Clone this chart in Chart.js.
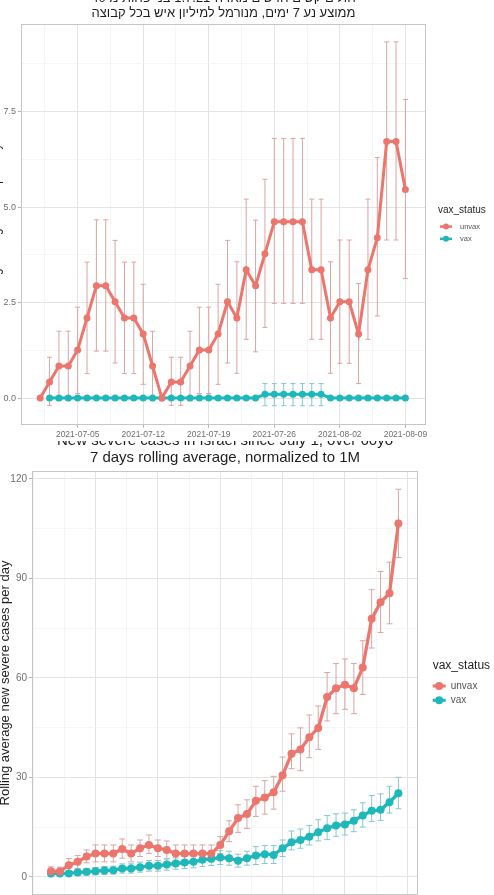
<!DOCTYPE html>
<html>
<head>
<meta charset="utf-8">
<script src="https://cdn.jsdelivr.net/npm/chart.js@4.4.1/dist/chart.umd.min.js"></script>
<style>
  html, body { margin: 0; padding: 0; background: #fff; }
  body { width: 494px; height: 895px; position: relative; overflow: hidden; }
  #topBox { position: absolute; left: 0; top: 0; width: 494px; height: 441px; overflow: hidden; background: #fff; z-index: 2; }
  #topChart { position: absolute; left: -15px; top: -9px; }
  #bottomChart { position: absolute; left: -2px; top: 433px; z-index: 1; }
</style>
</head>
<body>
<div id="topBox"><canvas id="topChart" width="509" height="452"></canvas></div>
<canvas id="bottomChart" width="496" height="475"></canvas>
<script>
// --- data ---
const days = [
  '2021-07-01', '2021-07-02', '2021-07-03', '2021-07-04', '2021-07-05', '2021-07-06', '2021-07-07', '2021-07-08',
  '2021-07-09', '2021-07-10', '2021-07-11', '2021-07-12', '2021-07-13', '2021-07-14', '2021-07-15', '2021-07-16',
  '2021-07-17', '2021-07-18', '2021-07-19', '2021-07-20', '2021-07-21', '2021-07-22', '2021-07-23', '2021-07-24',
  '2021-07-25', '2021-07-26', '2021-07-27', '2021-07-28', '2021-07-29', '2021-07-30', '2021-07-31', '2021-08-01',
  '2021-08-02', '2021-08-03', '2021-08-04', '2021-08-05', '2021-08-06', '2021-08-07', '2021-08-08', '2021-08-09'
];
const dateTicks = ['2021-07-05', '2021-07-12', '2021-07-19', '2021-07-26', '2021-08-02', '2021-08-09'];
const rateTicks = ['0.0', '2.5', '5.0', '7.5'];
const severeTicks = ['0', '30', '60', '90', '120'];
const severeWeekTicks = [5, 12, 19, 26, 33, 40]; // weekly gridlines of the lower chart (day index)
const seriesNames = ['unvax', 'vax'];
const legendTitle = 'vax_status';

const topTitle = ['חולים קשים חדשים מאז ה-1.7.21 בני פחות מ 40', 'ממוצע נע 7 ימים, מנורמל למיליון איש בכל קבוצה'];
const bottomTitle = ['New severe cases in Israel since July 1, over 60yo', '7 days rolling average, normalized to 1M'];
const topYTitle = 'Rolling average cases per day';
const bottomYTitle = 'Rolling average new severe cases per day';

// upper chart (under 40)
const youngUnvax = [0, 0.42, 0.84, 0.84, 1.26, 2.1, 2.94, 2.94, 2.52, 2.1,
  2.1, 1.68, 0.84, 0, 0.42, 0.42, 0.84, 1.26, 1.26, 1.68,
  2.52, 2.1, 3.36, 2.94, 3.78, 4.62, 4.62, 4.62, 4.62, 3.36,
  3.36, 2.1, 2.52, 2.52, 1.68, 3.36, 4.2, 6.72, 6.72, 5.46];
const youngUnvaxLow = [null, -0.19, -0.07, -0.07, 0.12, 0.64, 1.23, 1.23, 0.92, 0.64,
  0.64, 0.36, -0.07, null, -0.19, -0.19, -0.07, 0.12, 0.12, 0.36,
  0.92, 0.65, 1.54, 1.21, 1.85, 2.48, 2.48, 2.48, 2.48, 1.54,
  1.54, 0.65, 0.91, 0.91, 0.38, 1.54, 2.15, 4.14, 4.14, 3.13];
const youngUnvaxHigh = [null, 1.07, 1.75, 1.75, 2.38, 3.56, 4.67, 4.67, 4.13, 3.56,
  3.56, 2.98, 1.75, null, 1.07, 1.07, 1.75, 2.38, 2.38, 2.98,
  4.13, 3.57, 5.21, 4.66, 5.73, 6.8, 6.8, 6.8, 6.8, 5.21,
  5.21, 3.57, 4.14, 4.14, 3.0, 5.21, 6.3, 9.33, 9.33, 7.82];
const youngVax = [null, 0, 0, 0, 0, 0, 0, 0, 0, 0,
  0, 0, 0, 0, 0, 0, 0, 0, 0, 0,
  0, 0, 0, 0, 0.1, 0.1, 0.1, 0.1, 0.1, 0.1,
  0.1, 0, 0, 0, 0, 0, 0, 0, 0, 0];
const youngVaxLow = [null, null, null, null, null, null, null, null, null, null,
  null, null, null, null, null, null, null, null, null, null,
  null, null, null, null, -0.2, -0.2, -0.2, -0.2, -0.2, -0.2,
  -0.2, null, null, null, null, null, null, null, null, null];
const youngVaxHigh = [null, null, null, null, null, null, null, null, null, null,
  null, null, null, null, null, null, null, null, null, null,
  null, null, null, null, 0.38, 0.38, 0.38, 0.38, 0.38, 0.38,
  0.38, null, null, null, null, null, null, null, null, null];

// lower chart (over 60)
const oldUnvax = [1.7, 1.6, 3.5, 4.5, 6.1, 7.0, 7.0, 7.0, 8.4, 7.0,
  8.6, 9.6, 8.6, 8.1, 7.0, 7.0, 7.0, 7.0, 7.0, 9.6,
  13.7, 17.7, 18.9, 22.9, 23.9, 25.5, 30.6, 37.1, 38.4, 42.1,
  44.9, 54.2, 56.9, 57.9, 56.9, 63.1, 77.8, 82.8, 85.5, 106.6];
const oldUnvaxLow = [0.5, 0.4, 1.6, 2.5, 4.2, 4.5, 4.5, 4.5, 5.6, 4.5,
  6.1, 7.0, 6.1, 5.4, 4.5, 4.5, 4.5, 4.5, 4.5, 7.0,
  10.6, 13.4, 14.6, 18.2, 18.9, 20.4, 25.8, 32.6, 32.0, 35.9,
  38.4, 47.0, 49.2, 50.5, 49.2, 55.0, 69.0, 73.7, 76.3, 96.3];
const oldUnvaxHigh = [3.0, 2.9, 5.5, 6.4, 8.1, 9.6, 9.6, 9.6, 11.4, 9.6,
  11.1, 12.6, 11.1, 10.8, 9.6, 9.6, 9.6, 9.6, 9.6, 12.1,
  16.9, 21.7, 23.2, 27.3, 29.0, 30.3, 36.1, 43.1, 44.9, 48.8,
  51.5, 61.6, 64.3, 65.7, 64.3, 71.2, 86.6, 92.1, 94.9, 116.9];
const oldVax = [1.0, 1.0, 1.0, 1.3, 1.5, 1.7, 1.9, 2.0, 2.5, 2.5,
  2.9, 3.3, 3.3, 3.7, 4.0, 4.3, 4.5, 5.1, 5.4, 5.8,
  5.6, 4.8, 5.6, 6.4, 6.8, 6.6, 8.6, 10.4, 11.1, 12.1,
  13.4, 14.6, 15.5, 15.8, 16.9, 18.5, 19.9, 20.2, 22.5, 25.2];
const oldVaxLow = [0.3, 0.3, 0.3, 0.4, 0.5, 0.6, 0.7, 0.8, 1.1, 1.1,
  1.4, 1.7, 1.7, 2.0, 2.3, 2.5, 2.7, 3.1, 3.4, 3.7,
  3.5, 2.9, 3.5, 3.7, 4.0, 4.0, 6.1, 8.1, 8.6, 9.6,
  10.8, 11.2, 12.2, 12.6, 13.6, 15.0, 16.7, 17.0, 19.2, 20.5];
const oldVaxHigh = [1.8, 1.8, 1.8, 2.2, 2.5, 2.8, 3.1, 3.2, 3.9, 3.9,
  4.4, 4.9, 4.9, 5.4, 5.7, 6.1, 6.3, 7.1, 7.4, 7.9,
  7.7, 6.8, 7.7, 9.1, 9.4, 9.4, 11.1, 13.8, 14.4, 15.5,
  17.2, 18.5, 19.0, 19.2, 20.2, 22.3, 24.5, 25.0, 27.3, 30.0];

// --- styling ---
const RED = '#EC756D';
const TEAL = '#1EB8BB';
const RED_BAR = '#D9A5A2';
const TEAL_BAR = '#84C9CA';
const GRID_MAJOR = '#E3E3E3';
const GRID_MINOR = '#EFEFEF';
const TEXT = '#1f1f1f';
const TICK_TEXT = '#6e6e6e';

Chart.defaults.font.family = '"Liberation Sans", Arial, sans-serif';

const toPoints = vals => vals.map((v, i) => ({ x: i, y: v }));

// major gridlines plus ggplot style minor ones half way between
function gridTicks(majors, min, max) {
  const step = majors[1] - majors[0];
  const vals = [];
  for (let v = majors[0] - step; v <= max + 1e-6; v += step / 2) {
    if (v >= min - 1e-6) vals.push(Math.round(v * 1000) / 1000);
  }
  return vals;
}

function ggScale(min, max, majors, labelOf, fontSize, showLabels) {
  const majorIdx = v => majors.findIndex(m => Math.abs(m - v) < 1e-6);
  return {
    type: 'linear', min, max,
    afterBuildTicks: s => { s.ticks = gridTicks(majors, min, max).map(v => ({ value: v })); },
    border: { display: false },
    grid: {
      color: c => majorIdx(c.tick.value) >= 0 ? GRID_MAJOR : GRID_MINOR,
      lineWidth: c => majorIdx(c.tick.value) >= 0 ? 1 : 0.6,
      tickColor: c => majorIdx(c.tick.value) >= 0 ? '#B5B5B5' : 'rgba(0,0,0,0)',
      tickLength: 3,
      drawTicks: showLabels
    },
    ticks: {
      display: showLabels, autoSkip: false, maxRotation: 0, minRotation: 0, padding: 2,
      color: TICK_TEXT, font: { size: fontSize },
      callback: v => { const i = majorIdx(v); return i < 0 ? '' : labelOf(i); }
    }
  };
}

const errorBars = {
  id: 'errorBars',
  beforeDatasetsDraw(chart, args, opts) {
    const { ctx, chartArea: a, scales: { x, y } } = chart;
    ctx.save();
    ctx.beginPath();
    ctx.rect(a.left, a.top, a.right - a.left, a.bottom - a.top);
    ctx.clip();
    chart.data.datasets.forEach(ds => {
      ctx.strokeStyle = ds.errColor;
      ctx.lineWidth = opts.width;
      ds.errLow.forEach((lo, i) => {
        const hi = ds.errHigh[i];
        if (lo == null || hi == null) return;
        const px = x.getPixelForValue(i);
        const y0 = y.getPixelForValue(lo);
        const y1 = y.getPixelForValue(hi);
        ctx.beginPath();
        ctx.moveTo(px, y0); ctx.lineTo(px, y1);
        ctx.moveTo(px - opts.cap, y0); ctx.lineTo(px + opts.cap, y0);
        ctx.moveTo(px - opts.cap, y1); ctx.lineTo(px + opts.cap, y1);
        ctx.stroke();
      });
    });
    ctx.restore();
  }
};

const panelBorder = {
  id: 'panelBorder',
  afterDatasetsDraw(chart) {
    const { ctx, chartArea: a } = chart;
    ctx.save();
    ctx.strokeStyle = '#C6C6C6';
    ctx.lineWidth = 1;
    ctx.strokeRect(Math.round(a.left) + 0.5, Math.round(a.top) + 0.5,
      Math.round(a.right - a.left) - 1, Math.round(a.bottom - a.top) - 1);
    ctx.restore();
  }
};

// legend in the ggplot manner: title, then line + dot keys
const ggLegend = {
  id: 'ggLegend',
  afterDraw(chart, args, o) {
    const { ctx, chartArea: a } = chart;
    const x0 = a.right + o.gap;
    const yc = (a.top + a.bottom) / 2;
    ctx.save();
    ctx.textAlign = 'left';
    ctx.textBaseline = 'middle';
    ctx.fillStyle = TEXT;
    ctx.font = `${o.titleSize}px ${Chart.defaults.font.family}`;
    ctx.fillText(legendTitle, x0, yc + o.titleDy);
    chart.data.datasets.forEach((ds, k) => {
      const y = yc + o.itemDy + k * o.itemGap;
      ctx.strokeStyle = ds.borderColor;
      ctx.lineWidth = o.lineW;
      ctx.beginPath();
      ctx.moveTo(x0 + o.keyX, y);
      ctx.lineTo(x0 + o.keyX + o.keyW, y);
      ctx.stroke();
      ctx.fillStyle = ds.backgroundColor;
      ctx.beginPath();
      ctx.arc(x0 + o.keyX + o.keyW / 2, y, o.dotR, 0, Math.PI * 2);
      ctx.fill();
      ctx.fillStyle = '#555';
      ctx.font = `${o.labelSize}px ${Chart.defaults.font.family}`;
      ctx.fillText(ds.label, x0 + o.textX, y);
    });
    ctx.restore();
  }
};

// --- upper chart ---
new Chart(document.getElementById('topChart'), {
  type: 'line',
  data: {
    datasets: [
      { label: seriesNames[0], data: toPoints(youngUnvax), borderColor: RED, backgroundColor: RED,
        errLow: youngUnvaxLow, errHigh: youngUnvaxHigh, errColor: RED_BAR },
      { label: seriesNames[1], data: toPoints(youngVax), borderColor: TEAL, backgroundColor: TEAL,
        errLow: youngVaxLow, errHigh: youngVaxHigh, errColor: TEAL_BAR }
    ]
  },
  options: {
    responsive: false, animation: false, events: [],
    layout: { padding: { left: 0, right: 68, top: 0, bottom: 1 } },
    elements: { line: { borderWidth: 3, tension: 0 }, point: { radius: 3.5, borderWidth: 0 } },
    plugins: {
      legend: { display: false }, tooltip: { enabled: false },
      title: { display: true, text: topTitle, fullSize: false, color: TEXT,
        font: { size: 13, weight: 'normal', lineHeight: 1.15 }, padding: { top: 0, bottom: 3 } },
      errorBars: { cap: 2.5, width: 1 },
      ggLegend: { gap: 12, titleDy: -14.5, itemDy: 2.2, itemGap: 12.3, titleSize: 10, labelSize: 7.5,
        keyX: 2, keyW: 12, textX: 22, dotR: 3, lineW: 2.5 }
    },
    scales: {
      x: ggScale(-2.05, 41.2, dateTicks.map(d => days.indexOf(d)), i => dateTicks[i], 8.5, true),
      y: Object.assign(ggScale(-0.7, 9.8, rateTicks.map(Number), i => rateTicks[i], 9, true), {
        afterFit: s => { s.width = 36; },
        title: { display: true, text: topYTitle, color: TEXT, font: { size: 12 }, padding: { top: 4.8, bottom: 0 } }
      })
    }
  },
  plugins: [errorBars, panelBorder, ggLegend]
});

// --- lower chart ---
new Chart(document.getElementById('bottomChart'), {
  type: 'line',
  data: {
    datasets: [
      { label: seriesNames[0], data: toPoints(oldUnvax), borderColor: RED, backgroundColor: RED,
        errLow: oldUnvaxLow, errHigh: oldUnvaxHigh, errColor: RED_BAR },
      { label: seriesNames[1], data: toPoints(oldVax), borderColor: TEAL, backgroundColor: TEAL,
        errLow: oldVaxLow, errHigh: oldVaxHigh, errColor: TEAL_BAR }
    ]
  },
  options: {
    responsive: false, animation: false, events: [],
    layout: { padding: { left: 0, right: 76, top: 0, bottom: 13 } },
    elements: { line: { borderWidth: 3.3, tension: 0 }, point: { radius: 4, borderWidth: 0 } },
    plugins: {
      legend: { display: false }, tooltip: { enabled: false },
      title: { display: true, text: bottomTitle, fullSize: false, color: TEXT,
        font: { size: 15, weight: 'normal', lineHeight: 1.1 }, padding: { top: 0, bottom: 5 } },
      errorBars: { cap: 3, width: 1 },
      ggLegend: { gap: 14.7, titleDy: -17, itemDy: 3, itemGap: 14.3, titleSize: 12, labelSize: 10,
        keyX: 0, keyW: 13, textX: 18, dotR: 4, lineW: 3 }
    },
    scales: {
      x: ggScale(-2.13, 41.2, severeWeekTicks, i => '', 9, false),
      y: Object.assign(ggScale(-5.5, 122.4, severeTicks.map(Number), i => severeTicks[i], 10, true), {
        afterFit: s => { s.width = 34; },
        title: { display: true, text: bottomYTitle, color: TEXT, font: { size: 13 }, padding: { top: 0, bottom: 0 } }
      })
    }
  },
  plugins: [errorBars, panelBorder, ggLegend]
});
</script>
</body>
</html>
